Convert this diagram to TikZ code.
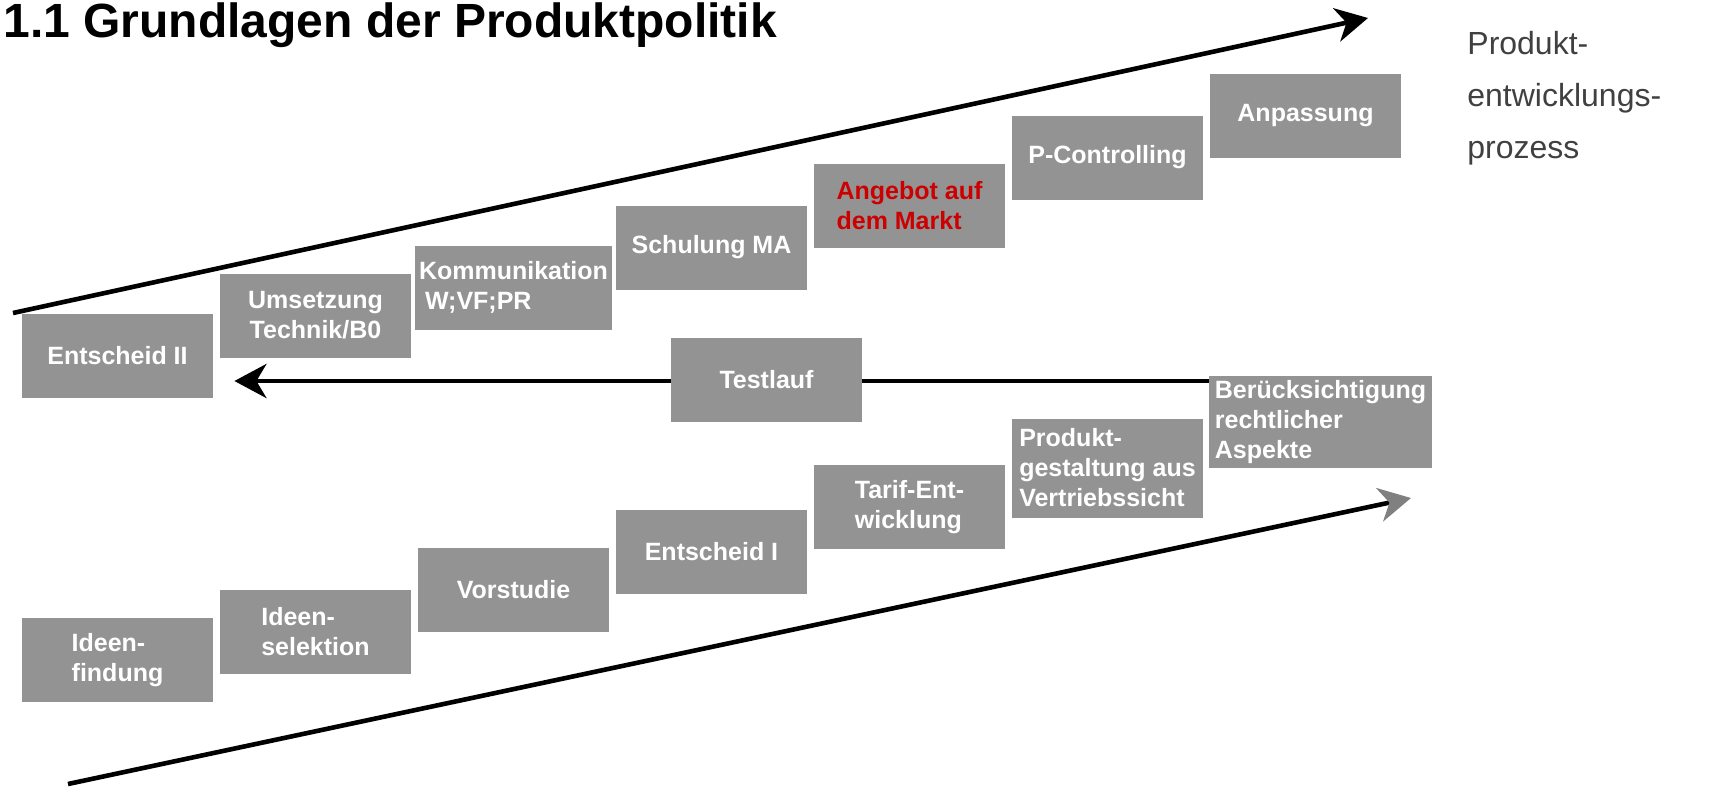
\documentclass[tikz,border=0pt]{standalone}
\usepackage{fontspec}
\setmainfont{Liberation Sans}
\usetikzlibrary{positioning, arrows.meta, backgrounds}
\definecolor{boxgray}{RGB}{147,147,147}
\definecolor{marktred}{RGB}{204,0,0}
\definecolor{labelgray}{RGB}{64,64,64}
\definecolor{headgray}{RGB}{128,128,128}
\tikzset{
x=0.5pt, y=-0.5pt, % one unit is one pixel of the slide, y runs downwards
>={Stealth[length=16pt, width=17pt, inset=5pt]}, % makes the arrow heads big
node distance=99pt, % distance between the centres of two neighbouring steps
stage/.style={rectangle, fill=boxgray, text=white, align=center, font=\bfseries\fontsize{12.5}{15}\selectfont, minimum width=95.5pt, minimum height=42pt, inner sep=2pt}, % grey box of one step
flow/.style={line width=2.3pt, ->}, % thick black arrow
}
\tikzset{
  grayflow/.style={line width=2.3pt, -{Stealth[length=16pt, width=17pt, inset=5pt, color=headgray]}}
}

\begin{document}
\begin{tikzpicture}
      \useasboundingbox (0,0) rectangle (1710,794);
      \node[anchor=base west, inner sep=0pt, font=\bfseries\fontsize{24}{29}\selectfont] (titel) at (3,37) {1.1 Grundlagen der Produktpolitik};
      \node[anchor=north west, inner sep=0pt, align=left, text=labelgray, font=\fontsize{16}{26}\selectfont] (prozess) at (1467,31) {Produkt-\\entwicklungs-\\prozess};

      % upper staircase
      \node[stage] (entII) at (117.5,355.5) {Entscheid II};
      \node[stage, right of=entII, yshift=20pt] (umsetzung) {Umsetzung\\Technik/B0};
      \node[stage, align=left, right of=umsetzung, yshift=14pt] (kommunikation) {Kommunikation\\\hspace{3pt}W;VF;PR};
      \node[stage, right of=kommunikation, yshift=20pt] (schulung) {Schulung MA};
      \node[stage, align=left, text=marktred, right of=schulung, yshift=21pt] (angebot) {Angebot auf\\dem Markt};
      \node[stage, right of=angebot, yshift=24pt] (controlling) {P-Controlling};
      \node[stage, right of=controlling, yshift=21pt] (anpassung) {Anpassung};

      \node[stage] (testlauf) at (766.5,379.5) {Testlauf};

      % lower staircase
      \node[stage, align=left] (findung) at (117.5,660) {Ideen-\\findung};
      \node[stage, align=left, right of=findung, yshift=14pt] (selektion) {Ideen-\\selektion};
      \node[stage, right of=selektion, yshift=21pt] (vorstudie) {Vorstudie};
      \node[stage, right of=vorstudie, yshift=19pt] (entI) {Entscheid I};
      \node[stage, align=left, right of=entI, yshift=22.5pt] (tarif) {Tarif-Ent-\\wicklung};
      \node[stage, align=left, right of=tarif, yshift=19.5pt, minimum height=49.5pt] (gestaltung) {Produkt-\\gestaltung aus\\Vertriebssicht};
      \node[stage, align=left, right of=gestaltung, xshift=7.5pt, yshift=23pt, minimum width=111.5pt, minimum height=46pt] (recht) {Berücksichtigung\\rechtlicher\\Aspekte};

      \coordinate (upstart) at (13,313);
      \coordinate (upend) at (1368,18);
      \coordinate (lowstart) at (68,784);
      \coordinate (lowend) at (1411,498);
      \coordinate (teststart) at (1211,381);

      \begin{scope}[on background layer]
      \draw (upstart) edge[flow] (upend)
      (lowstart) edge[grayflow] (lowend)
      (teststart) edge[flow, shorten >=10.5pt] (entII.east |- teststart);
      \end{scope}
    \end{tikzpicture}
\end{document}
